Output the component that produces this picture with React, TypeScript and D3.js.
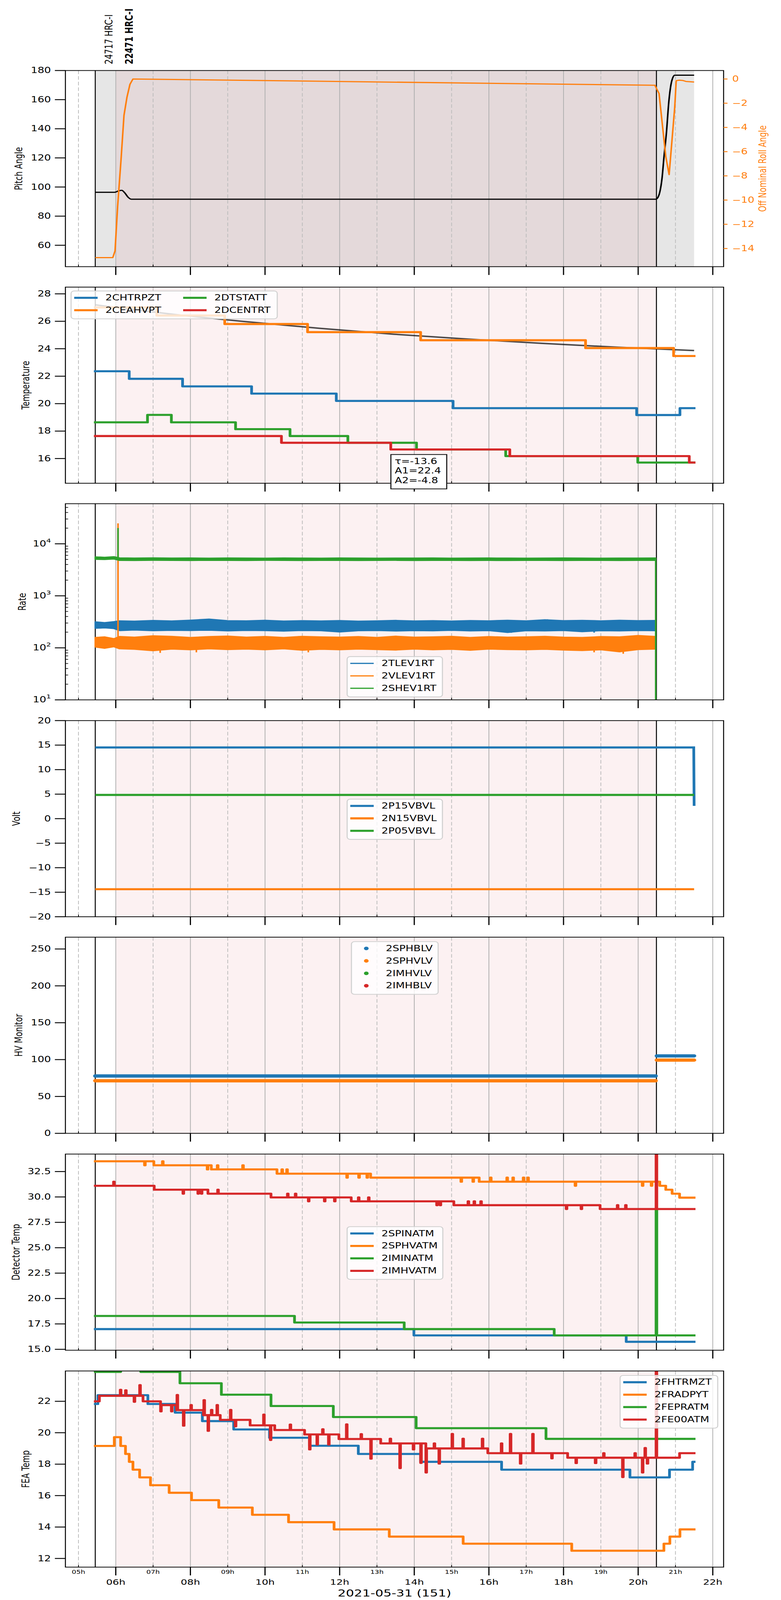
import React, { useEffect, useState } from 'react';
import * as d3 from 'd3';

type Pt = [number, number];

const BLUE = '#1f77b4';
const ORANGE = '#ff7f0e';
const GREEN = '#2ca02c';
const RED = '#d62728';
const FONT = "'DejaVu Sans', sans-serif";

// ---- time axis: decimal hours on 2021-05-31 (DOY 151)
const timeDomain: Pt = [4.65, 22.29];
const majorHours = [6, 8, 10, 12, 14, 16, 18, 20, 22];
const minorHours = [5, 7, 9, 11, 13, 15, 17, 19, 21];
const dataSpan: Pt = [5.45, 21.5];
const hrcSpan: Pt = [5.995, 20.49];
const obsMarks = [
  { t: 5.45, label: '24717 HRC-I', bold: false },
  { t: 5.995, label: '22471 HRC-I', bold: true },
];
const xTitle = '2021-05-31 (151)';

// ---- panel 1: pitch / roll
const pitch: Pt[] = [
  [5.45, 96.4], [5.97, 96.4], [6.08, 97.4], [6.16, 97.7], [6.24, 96.0], [6.33, 93.0], [6.42, 91.6],
  [20.47, 91.6], [20.52, 92.5], [20.58, 96.5], [20.64, 106], [20.69, 120], [20.76, 138], [20.82, 158],
  [20.9, 172.8], [20.98, 176.8], [21.5, 176.8],
];
const roll: Pt[] = [
  [5.45, -14.75], [5.92, -14.75], [5.98, -14.2], [6.05, -10.5], [6.14, -6.7], [6.22, -3.0], [6.3, -1.5],
  [6.38, -0.44], [6.46, 0], [20.45, -0.52], [20.56, -1.2], [20.74, -6.4], [20.83, -7.9], [20.98, -2.35],
  [21.02, -0.14], [21.1, -0.1], [21.19, -0.12], [21.28, -0.2], [21.5, -0.25],
];

// ---- panel 2: temperature (step starts, last point = end)
const chtrpzt: Pt[] = [[5.45, 22.36], [6.36, 21.81], [7.79, 21.26], [9.64, 20.73], [11.91, 20.2], [15.04, 19.67], [19.96, 19.17], [21.12, 19.67], [21.5, 19.67]];
const ceahvpt: Pt[] = [[5.45, 27.01], [7.1, 26.42], [8.92, 25.8], [11.14, 25.21], [14.17, 24.62], [18.59, 24.05], [20.95, 23.47], [21.5, 23.47]];
const dtstatt: Pt[] = [[5.45, 18.64], [6.85, 19.18], [7.49, 18.64], [9.21, 18.14], [10.67, 17.64], [12.22, 17.15], [14.06, 16.66], [16.45, 16.18], [19.99, 15.71], [21.5, 15.71]];
const dcentrt: Pt[] = [[5.45, 17.64], [10.44, 17.15], [13.37, 16.66], [16.56, 16.18], [21.37, 15.71], [21.5, 15.71]];
const tempFit: Pt[] = [[5.45, 27.2], [6.45, 26.86], [7.45, 26.54], [9.45, 25.98], [11.45, 25.49], [13.45, 25.06], [15.45, 24.7], [17.45, 24.39], [19.45, 24.11], [21.5, 23.87]];
const fitText = ['τ=-13.6', 'A1=22.4', 'A2=-4.8'];

// ---- panel 3: rates (noisy bands read as low/high envelopes)
const rateTimes = [5.45, 5.7, 5.95, 6.1, 6.5, 7.0, 7.5, 8.0, 8.5, 9.0, 9.5, 10.0, 10.5, 11.0, 11.5, 12.0, 12.5, 13.0, 13.5, 14.0, 14.5, 15.0, 15.5, 16.0, 16.5, 17.0, 17.5, 18.0, 18.5, 19.0, 19.5, 20.0, 20.47];
const tlevHi = [315, 305, 318, 330, 325, 335, 328, 340, 356, 332, 330, 338, 326, 332, 328, 334, 325, 330, 336, 328, 332, 326, 334, 330, 338, 329, 345, 332, 336, 330, 338, 332, 335];
const tlevLo = [238, 242, 235, 215, 220, 214, 218, 216, 219, 212, 217, 215, 210, 216, 214, 202, 214, 216, 211, 215, 213, 218, 212, 215, 198, 214, 212, 216, 205, 214, 212, 216, 214];
const vlevHi = [158, 162, 150, 165, 160, 170, 166, 158, 164, 168, 160, 165, 158, 166, 162, 160, 164, 158, 167, 160, 162, 166, 158, 164, 160, 162, 166, 160, 158, 164, 162, 172, 165];
const vlevLo = [104, 98, 105, 96, 94, 88, 95, 92, 96, 93, 95, 92, 96, 90, 94, 92, 95, 93, 91, 95, 92, 94, 90, 95, 93, 92, 94, 91, 89, 92, 84, 93, 95];
const shevHi = [5600, 5500, 5650, 5350, 5300, 5350, 5300, 5320, 5280, 5330, 5300, 5280, 5320, 5300, 5290, 5330, 5300, 5280, 5310, 5300, 5330, 5290, 5300, 5320, 5300, 5280, 5300, 5320, 5300, 5290, 5310, 5300, 5330];
const shevLo = [5050, 5000, 5100, 4800, 4780, 4820, 4800, 4790, 4810, 4800, 4780, 4820, 4800, 4790, 4800, 4810, 4780, 4800, 4820, 4790, 4800, 4810, 4790, 4800, 4780, 4810, 4800, 4790, 4810, 4800, 4790, 4800, 4810];
const tlevSpikes: Pt[] = [[8.46, 360], [12.03, 198], [16.6, 195], [17.57, 352], [18.82, 196]];
const vlevSpikes: Pt[] = [[6.06, 24700], [7.19, 80], [8.16, 82], [11.16, 82], [18.82, 82], [19.6, 77], [20.25, 172]];
const shevSpikes: Pt[] = [[6.06, 20100], [20.47, 1]];
const rateMid = { tlev: 270, vlev: 125, shev: 5000 };

// ---- panel 4: voltages
const p15vbvl: Pt[] = [[5.45, 14.52], [21.49, 14.52], [21.5, 2.62]];
const n15vbvl: Pt[] = [[5.45, -14.39], [21.5, -14.39]];
const p05vbvl: Pt[] = [[5.45, 4.84], [21.5, 4.84]];

// ---- panel 5: HV monitor runs [start, end, value]
const sphblv: [number, number, number][] = [[5.45, 20.47, 77.8], [20.5, 21.5, 105]];
const sphvlv: [number, number, number][] = [[5.45, 20.47, 71.3], [20.5, 21.5, 99.3]];
const imhvlv: [number, number, number][] = [];
const imhblv: [number, number, number][] = [];

// ---- panel 6: detector temps
const spinatm: Pt[] = [[5.45, 16.99], [13.99, 16.37], [19.68, 15.74], [21.5, 15.74]];
const sphvatm: Pt[] = [[5.45, 33.51], [7.02, 33.12], [8.56, 32.71], [10.32, 32.29], [12.83, 31.9], [15.74, 31.5], [20.58, 31.1], [20.74, 30.71], [20.91, 30.32], [21.11, 29.93], [21.5, 29.93]];
const sphvatmSpikes: Pt[] = [[6.77, 33.12], [7.25, 33.51], [8.45, 32.71], [8.72, 33.12], [9.4, 33.12], [10.45, 32.71], [10.58, 32.71], [12.19, 31.9], [12.51, 31.9], [12.73, 31.9], [15.25, 31.5], [15.57, 31.5], [16.04, 31.9], [16.48, 31.9], [16.64, 31.9], [16.92, 31.9], [17.04, 31.9], [18.31, 31.1], [20.11, 31.1], [20.35, 31.1]];
const iminatm: Pt[] = [[5.45, 18.28], [10.79, 17.64], [13.73, 16.99], [17.75, 16.37], [21.5, 16.37]];
const iminatmSpikes: Pt[] = [[20.48, 28.81]];
const imhvatm: Pt[] = [[5.45, 31.1], [7.03, 30.71], [8.47, 30.32], [10.16, 29.95], [12.31, 29.57], [15.06, 29.19], [18.98, 28.81], [21.5, 28.81]];
const imhvatmSpikes: Pt[] = [[5.94, 31.5], [7.8, 30.32], [8.2, 30.32], [8.29, 30.32], [8.73, 30.71], [10.6, 30.32], [10.81, 30.32], [11.16, 29.57], [11.59, 29.57], [11.86, 29.57], [12.5, 29.95], [12.77, 29.95], [14.6, 29.19], [14.69, 29.19], [15.44, 29.57], [15.6, 29.57], [15.78, 29.57], [18.07, 28.81], [18.47, 28.81], [19.44, 29.19], [19.66, 29.19], [20.48, 40]];

// ---- panel 7: FEA temps
const fhtrmzt: Pt[] = [[5.45, 21.83], [5.52, 22.39], [6.86, 21.83], [7.59, 21.28], [8.32, 20.74], [9.16, 20.21], [10.12, 19.68], [11.19, 19.17], [12.5, 18.65], [14.17, 18.15], [16.34, 17.65], [19.78, 17.16], [20.84, 17.65], [21.46, 18.15], [21.5, 18.15]];
const fradpyt: Pt[] = [[5.45, 19.16], [5.96, 19.72], [6.13, 19.16], [6.26, 18.65], [6.36, 18.15], [6.46, 17.65], [6.64, 17.16], [6.93, 16.66], [7.43, 16.18], [8.03, 15.71], [8.76, 15.24], [9.66, 14.78], [10.63, 14.31], [11.85, 13.85], [13.33, 13.39], [15.31, 12.94], [18.22, 12.49], [20.69, 12.94], [20.85, 13.39], [21.12, 13.85], [21.5, 13.85]];
const fepratm: Pt[] = [[5.45, 23.87], [6.13, 24.3], [6.67, 23.87], [7.72, 23.15], [8.83, 22.42], [10.16, 21.7], [11.83, 21.0], [14.05, 20.29], [17.53, 19.61], [21.5, 19.61]];
const fe00atm: Pt[] = [[5.45, 22.0], [5.56, 22.35], [6.73, 22.0], [7.22, 21.76], [7.63, 21.44], [8.35, 21.12], [8.8, 20.82], [9.6, 20.47], [10.26, 20.17], [11.06, 19.89], [11.98, 19.6], [13.1, 19.32], [14.33, 19.0], [15.97, 18.7], [18.11, 18.41], [21.11, 18.7], [21.5, 18.7]];
const fe00atmSpikes: Pt[] = [[6.12, 22.73], [6.26, 22.7], [6.49, 21.97], [6.64, 23.03], [7.2, 21.36], [7.49, 21.36], [7.64, 22.4], [7.81, 20.45], [8.01, 21.76], [8.36, 22.07], [8.47, 20.12], [8.56, 21.45], [8.71, 21.76], [9.07, 21.45], [9.2, 20.41], [9.96, 21.15], [10.14, 19.54], [10.67, 20.52], [11.19, 18.94], [11.39, 19.25], [11.54, 20.22], [11.7, 19.25], [12.18, 20.53], [12.57, 19.91], [12.83, 18.35], [13.35, 19.62], [13.61, 17.75], [13.97, 18.94], [14.17, 18.08], [14.31, 17.47], [14.53, 19.32], [14.66, 18.04], [15.01, 19.92], [15.3, 19.62], [15.82, 19.62], [16.33, 19.32], [16.57, 19.92], [16.84, 18.04], [17.17, 19.92], [17.68, 18.37], [18.33, 18.07], [18.85, 18.07], [19.07, 18.7], [19.58, 17.18], [19.91, 18.7], [20.11, 17.47], [20.18, 19.03], [20.24, 18.04], [20.48, 30]];

// ---- layout (drawn in a 2000x5400 frame)
const W = 2000;
const H = 5400;
const X0 = 167.5;
const X1 = 1853;
const PANEL_H = 662;
const panelTops = [238, 969, 1700, 2432, 3163, 3895, 4627];
const TICK_FS = 27;

const minus = (s: string) => s.replace('-', '\u2212');

// merge brief glitches into a step series
function withSpikes(steps: Pt[], spikes: Pt[], w = 0.02): Pt[] {
  const base = (t: number) => {
    let v = steps[0][1];
    for (const s of steps) if (s[0] <= t) v = s[1];
    return v;
  };
  const pts: Pt[] = [...steps];
  spikes.forEach(([t, v]) => pts.push([t, v], [t + w, base(t + w)]));
  return pts.sort((a, b) => a[0] - b[0]);
}

const x = d3.scaleLinear().domain(timeDomain).range([X0, X1]);

interface PanelProps {
  id: string;
  top: number;
  y: (v: number) => number;
  ticks: number[];
  fmt: (v: number) => React.ReactNode;
  ylabel: string;
  labelX: number;
  gray?: boolean;
  minorY?: number[];
  showX?: boolean;
  children?: React.ReactNode;
  overlay?: React.ReactNode;
}

const Panel: React.FC<PanelProps> = ({ id, top, y, ticks, fmt, ylabel, labelX, gray, minorY, showX, children, overlay }) => {
  const bottom = top + PANEL_H;
  return (
    <g>
      <defs>
        <clipPath id={id}>
          <rect x={X0} y={top} width={X1 - X0} height={PANEL_H} />
        </clipPath>
      </defs>
      {gray && <rect x={x(dataSpan[0])} y={top} width={x(dataSpan[1]) - x(dataSpan[0])} height={PANEL_H} fill="#808080" fillOpacity={0.2} />}
      <rect x={x(hrcSpan[0])} y={top} width={x(hrcSpan[1]) - x(hrcSpan[0])} height={PANEL_H} fill={RED} fillOpacity={0.063} />
      {majorHours.map(h => (
        <line key={'M' + h} x1={x(h)} x2={x(h)} y1={top} y2={bottom} stroke="#b0b0b0" strokeWidth={2} />
      ))}
      {minorHours.map(h => (
        <line key={'m' + h} x1={x(h)} x2={x(h)} y1={top} y2={bottom} stroke="#bdbdbd" strokeWidth={2} strokeDasharray="12 7" />
      ))}
      {[dataSpan[0], hrcSpan[1]].map(t => (
        <line key={'v' + t} x1={x(t)} x2={x(t)} y1={top} y2={bottom} stroke="#000" strokeWidth={2.5} />
      ))}
      <g clipPath={`url(#${id})`}>{children}</g>
      <rect x={X0} y={top} width={X1 - X0} height={PANEL_H} fill="none" stroke="#000" strokeWidth={2.5} />
      {ticks.map(t => (
        <g key={'yt' + t}>
          <line x1={X0 - 27} x2={X0} y1={y(t)} y2={y(t)} stroke="#000" strokeWidth={3} />
          <text x={X0 - 37} y={y(t)} textAnchor="end" dominantBaseline="central" fontSize={TICK_FS}>{fmt(t)}</text>
        </g>
      ))}
      {(minorY || []).map(t => (
        <line key={'ym' + t} x1={X0} x2={X0 + 7} y1={y(t)} y2={y(t)} stroke="#000" strokeWidth={2} />
      ))}
      <text transform={`translate(${labelX},${top + PANEL_H / 2}) rotate(-90)`} textAnchor="middle" dominantBaseline="central" fontSize={26}>{ylabel}</text>
      {majorHours.map(h => (
        <line key={'xt' + h} x1={x(h)} x2={x(h)} y1={bottom} y2={bottom + 28} stroke="#000" strokeWidth={3} />
      ))}
      {minorHours.map(h => (
        <line key={'xm' + h} x1={x(h)} x2={x(h)} y1={bottom - 7} y2={bottom} stroke="#000" strokeWidth={2} />
      ))}
      {showX && (
        <g>
          {minorHours.map(h => (
            <text key={'xl' + h} x={x(h)} y={bottom + 16} textAnchor="middle" dominantBaseline="central" fontSize={18}>{`${d3.format('02d')(h)}h`}</text>
          ))}
          {majorHours.map(h => (
            <text key={'XL' + h} x={x(h)} y={bottom + 50} textAnchor="middle" dominantBaseline="central" fontSize={26}>{`${d3.format('02d')(h)}h`}</text>
          ))}
          <text x={(X0 + X1) / 2} y={bottom + 88} textAnchor="middle" dominantBaseline="central" fontSize={33}>{xTitle}</text>
        </g>
      )}
      {overlay}
    </g>
  );
};

interface LegendItem { label: string; color: string }

const Legend: React.FC<{ x0: number; y0: number; w: number; items: LegendItem[]; cols?: number; lw?: number; marker?: boolean }> = ({ x0, y0, w, items, cols = 1, lw = 7, marker = false }) => {
  const perCol = Math.ceil(items.length / cols);
  return (
    <g>
      <rect x={x0} y={y0} width={w} height={perCol * 42 + 10} rx={8} fill="#fff" fillOpacity={0.8} stroke="#d0d0d0" strokeWidth={2.7} />
      {items.map((it, i) => {
        const cx = x0 + Math.floor(i / perCol) * 279;
        const cy = y0 + 23 + (i % perCol) * 42;
        return (
          <g key={it.label}>
            {marker
              ? <circle cx={cx + 38} cy={cy} r={6} fill={it.color} />
              : <line x1={cx + 8} x2={cx + 68} y1={cy} y2={cy} stroke={it.color} strokeWidth={lw} />}
            <text x={cx + 88} y={cy} dominantBaseline="central" fontSize={27}>{it.label}</text>
          </g>
        );
      })}
    </g>
  );
};

export default function App() {
  // the browser may cap the window below 5400px: fit the whole figure into what is visible
  const [viewH, setViewH] = useState(() => (typeof window !== 'undefined' ? Math.min(H, window.innerHeight || H) : H));
  useEffect(() => {
    document.body.style.margin = '0';
    document.body.style.overflow = 'hidden';
    setViewH(Math.min(H, window.innerHeight || H));
  }, []);

  const [t1, t2, t3, t4, t5, t6, t7] = panelTops;
  const b = (t: number) => t + PANEL_H;

  const yPitch = d3.scaleLinear().domain([45.3, 180]).range([b(t1), t1]);
  const yRoll = d3.scaleLinear().domain([-15.5, 0.7]).range([b(t1), t1]);
  const yTemp = d3.scaleLinear().domain([14.2, 28.49]).range([b(t2), t2]);
  const yRate = d3.scaleLog().domain([10, 59000]).range([b(t3), t3]);
  const yVolt = d3.scaleLinear().domain([-20, 20]).range([b(t4), t4]);
  const yHv = d3.scaleLinear().domain([0, 266]).range([b(t5), t5]);
  const yDet = d3.scaleLinear().domain([14.91, 34.22]).range([b(t6), t6]);
  const yFea = d3.scaleLinear().domain([11.45, 23.93]).range([b(t7), t7]);

  const path = (ys: (v: number) => number, pts: Pt[], curve: d3.CurveFactory = d3.curveLinear) =>
    d3.line<Pt>().x(d => x(d[0])).y(d => ys(d[1])).curve(curve)(pts) || '';

  const step = (ys: (v: number) => number, pts: Pt[], color: string, lw = 7) => (
    <path d={path(ys, pts, d3.curveStepAfter)} fill="none" stroke={color} strokeWidth={lw} strokeLinejoin="round" strokeLinecap="square" />
  );

  const band = (lo: number[], hi: number[], color: string) => {
    const area = d3.area<number>()
      .x((_, i) => x(rateTimes[i]))
      .y0((_, i) => yRate(lo[i]))
      .y1((_, i) => yRate(hi[i]));
    return <path d={area(rateTimes) || ''} fill={color} stroke={color} strokeWidth={4} strokeLinejoin="round" />;
  };

  const spikes = (list: Pt[], mid: number, color: string) =>
    list.map(([t, v]) => (
      <line key={color + t} x1={x(t)} x2={x(t)} y1={yRate(mid)} y2={yRate(v)} stroke={color} strokeWidth={4} />
    ));

  const runs = (list: [number, number, number][], color: string) =>
    list.map(([a, e, v]) => (
      <line key={color + a} x1={x(a)} x2={x(e)} y1={yHv(v)} y2={yHv(v)} stroke={color} strokeWidth={11} strokeLinecap="round" />
    ));

  const rateMinor: number[] = [];
  [10, 100, 1000, 10000].forEach(dec => d3.range(2, 10).forEach(k => { if (dec * k < 59000) rateMinor.push(dec * k); }));

  return (
    <svg width={W} height={viewH} viewBox={`0 0 ${W} ${H}`} preserveAspectRatio="none" fontFamily={FONT}
      style={{ position: 'absolute', left: 0, top: 0, display: 'block' }}>
      <rect width={W} height={H} fill="#fff" />

      {obsMarks.map(o => (
        <text key={o.label} transform={`translate(${x(o.t) + 35},217) rotate(-90)`} dominantBaseline="central" fontSize={27} fontWeight={o.bold ? 'bold' : 'normal'}>{o.label}</text>
      ))}

      <Panel id="p1" top={t1} y={yPitch} ticks={d3.range(60, 181, 20)} fmt={v => String(v)} ylabel="Pitch Angle" labelX={48} gray
        overlay={
          <g>
            {d3.range(0, -15, -2).map(v => (
              <g key={'r' + v}>
                <line x1={X1} x2={X1 + 10} y1={yRoll(v)} y2={yRoll(v)} stroke={ORANGE} strokeWidth={3} />
                <text x={X1 + 22} y={yRoll(v)} dominantBaseline="central" fontSize={TICK_FS} fill={ORANGE}>{minus(String(v))}</text>
              </g>
            ))}
            <text transform={`translate(1953,${t1 + PANEL_H / 2}) rotate(-90)`} textAnchor="middle" dominantBaseline="central" fontSize={26} fill={ORANGE}>Off Nominal Roll Angle</text>
          </g>
        }>
        <path d={path(yPitch, pitch, d3.curveMonotoneX)} fill="none" stroke="#000" strokeWidth={4} />
        <path d={path(yRoll, roll)} fill="none" stroke={ORANGE} strokeWidth={4} strokeLinejoin="round" />
      </Panel>

      <Panel id="p2" top={t2} y={yTemp} ticks={d3.range(16, 29, 2)} fmt={v => String(v)} ylabel="Temperature" labelX={66}
        overlay={
          <g>
            <Legend x0={182} y0={982} w={528} cols={2} items={[
              { label: '2CHTRPZT', color: BLUE }, { label: '2CEAHVPT', color: ORANGE },
              { label: '2DTSTATT', color: GREEN }, { label: '2DCENTRT', color: RED },
            ]} />
            <rect x={1001} y={1534} width={143} height={116} fill="#fff" stroke="#000" strokeWidth={2.5} />
            {fitText.map((s, i) => (
              <text key={s} x={1011} y={1557 + i * 32.5} dominantBaseline="central" fontSize={27}>{s}</text>
            ))}
          </g>
        }>
        <path d={path(yTemp, tempFit, d3.curveMonotoneX)} fill="none" stroke="#000" strokeOpacity={0.7} strokeWidth={5} />
        {step(yTemp, chtrpzt, BLUE)}
        {step(yTemp, ceahvpt, ORANGE)}
        {step(yTemp, dtstatt, GREEN)}
        {step(yTemp, dcentrt, RED)}
      </Panel>

      <Panel id="p3" top={t3} y={yRate} ticks={[10, 100, 1000, 10000]} minorY={rateMinor}
        fmt={v => <>10<tspan dy={-11} fontSize={19}>{Math.round(Math.log10(v))}</tspan></>}
        ylabel="Rate" labelX={57}
        overlay={
          <Legend x0={889} y0={2216} w={244} lw={4} items={[
            { label: '2TLEV1RT', color: BLUE }, { label: '2VLEV1RT', color: ORANGE }, { label: '2SHEV1RT', color: GREEN },
          ]} />
        }>
        {band(tlevLo, tlevHi, BLUE)}
        {spikes(tlevSpikes, rateMid.tlev, BLUE)}
        {band(vlevLo, vlevHi, ORANGE)}
        {spikes(vlevSpikes, rateMid.vlev, ORANGE)}
        {band(shevLo, shevHi, GREEN)}
        {spikes(shevSpikes, rateMid.shev, GREEN)}
      </Panel>

      <Panel id="p4" top={t4} y={yVolt} ticks={d3.range(-20, 21, 5)} fmt={v => minus(String(v))} ylabel="Volt" labelX={42}
        overlay={
          <Legend x0={889} y0={2697} w={244} items={[
            { label: '2P15VBVL', color: BLUE }, { label: '2N15VBVL', color: ORANGE }, { label: '2P05VBVL', color: GREEN },
          ]} />
        }>
        <path d={path(yVolt, p15vbvl)} fill="none" stroke={BLUE} strokeWidth={7} />
        <path d={path(yVolt, n15vbvl)} fill="none" stroke={ORANGE} strokeWidth={7} />
        <path d={path(yVolt, p05vbvl)} fill="none" stroke={GREEN} strokeWidth={7} />
      </Panel>

      <Panel id="p5" top={t5} y={yHv} ticks={d3.range(0, 251, 50)} fmt={v => String(v)} ylabel="HV Monitor" labelX={48}
        overlay={
          <Legend x0={900} y0={3178} w={222} marker items={[
            { label: '2SPHBLV', color: BLUE }, { label: '2SPHVLV', color: ORANGE },
            { label: '2IMHVLV', color: GREEN }, { label: '2IMHBLV', color: RED },
          ]} />
        }>
        {runs(sphblv, BLUE)}
        {runs(sphvlv, ORANGE)}
        {runs(imhvlv, GREEN)}
        {runs(imhblv, RED)}
      </Panel>

      <Panel id="p6" top={t6} y={yDet} ticks={d3.range(15, 33, 2.5)} fmt={v => v.toFixed(1)} ylabel="Detector Temp" labelX={41}
        overlay={
          <Legend x0={889} y0={4140} w={245} items={[
            { label: '2SPINATM', color: BLUE }, { label: '2SPHVATM', color: ORANGE },
            { label: '2IMINATM', color: GREEN }, { label: '2IMHVATM', color: RED },
          ]} />
        }>
        {step(yDet, spinatm, BLUE)}
        {step(yDet, withSpikes(sphvatm, sphvatmSpikes), ORANGE)}
        {step(yDet, withSpikes(iminatm, iminatmSpikes), GREEN)}
        {step(yDet, withSpikes(imhvatm, imhvatmSpikes), RED)}
      </Panel>

      <Panel id="p7" top={t7} y={yFea} ticks={d3.range(12, 23, 2)} fmt={v => String(v)} ylabel="FEA Temp" labelX={66} showX
        overlay={
          <Legend x0={1588} y0={4642} w={250} items={[
            { label: '2FHTRMZT', color: BLUE }, { label: '2FRADPYT', color: ORANGE },
            { label: '2FEPRATM', color: GREEN }, { label: '2FE00ATM', color: RED },
          ]} />
        }>
        {step(yFea, fhtrmzt, BLUE)}
        {step(yFea, fradpyt, ORANGE)}
        {step(yFea, fepratm, GREEN)}
        {step(yFea, withSpikes(fe00atm, fe00atmSpikes), RED)}
      </Panel>
    </svg>
  );
}
